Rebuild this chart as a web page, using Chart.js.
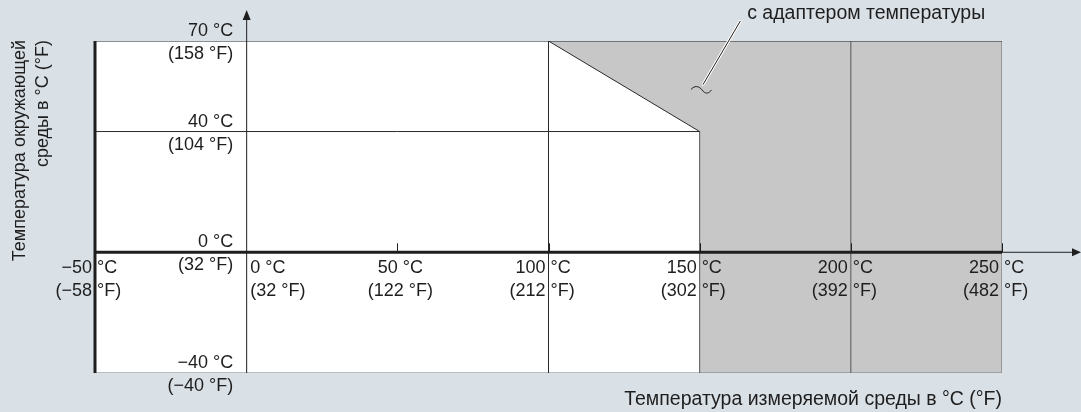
<!DOCTYPE html>
<html>
<head>
<meta charset="utf-8">
<script src="https://cdn.jsdelivr.net/npm/chart.js@4.4.1/dist/chart.umd.min.js"></script>
<style>
  html, body { margin: 0; padding: 0; background: #d9e0e6; }
</style>
</head>
<body>
<canvas id="rangeChart" width="1081" height="412"></canvas>
<script>
// process temperature ticks, °C and °F
const xTicks = [-50, 0, 50, 100, 150, 200, 250];
const xTicksF = [-58, 32, 122, 212, 302, 392, 482];
// ambient temperature ticks, °C and °F
const yTicks = [70, 40, 0, -40];
const yTicksF = [158, 104, 32, -40];

// area where the temperature adapter is needed
const adapterZone = [
    { x: 100, y: 70 },
    { x: 250, y: 70 },
    { x: 250, y: -40 },
    { x: 150, y: -40 },
    { x: 150, y: 40 },
];
// derating edge of the plain device
const limitEdge = [
    { x: 100, y: 70 },
    { x: 150, y: 40 },
];
const ambientLine = [{ x: -50, y: 40 }, { x: 150, y: 40 }];
const line100 = [{ x: 100, y: -40 }, { x: 100, y: 70 }];
const line150 = [{ x: 150, y: -40 }, { x: 150, y: 40 }];
const line200 = [{ x: 200, y: -40 }, { x: 200, y: 70 }];
const frameTop = [{ x: -50, y: 70 }, { x: 250, y: 70 }];
const frameBottom = [{ x: -50, y: -40 }, { x: 250, y: -40 }];
const frameRight = [{ x: 250, y: -40 }, { x: 250, y: 70 }];

const yTitle = ['Температура окружающей', 'среды в °C (°F)'];
const xTitle = 'Температура измеряемой среды в °C (°F)';
const noteText = 'с адаптером температуры';
const notePoint = { x: 150.5, y: 54 };

const FONT = '18px "Liberation Sans", Arial, sans-serif';
const FONT_BIG = '19.5px "Liberation Sans", Arial, sans-serif';
const INK = '#1e1e1e';

const minus = v => String(v).replace('-', '\u2212');

function seg(data, color, width) {
    return {
        data,
        showLine: true,
        borderColor: color,
        borderWidth: width,
        pointRadius: 0,
        fill: false,
        order: 1
    };
}

const chartDecor = {
    id: 'chartDecor',
    beforeDraw(chart) {
        const ctx = chart.ctx;
        ctx.save();
        ctx.fillStyle = '#d9e0e6';
        ctx.fillRect(0, 0, chart.width, chart.height);
        ctx.restore();
    },
    beforeDatasetsDraw(chart) {
        const { ctx, chartArea: a } = chart;
        ctx.save();
        ctx.fillStyle = '#ffffff';
        ctx.fillRect(a.left, a.top, a.right - a.left, a.bottom - a.top);
        ctx.restore();
    },
    afterDatasetsDraw(chart) {
        const { ctx, chartArea: a, scales: { x, y } } = chart;
        const x0 = x.getPixelForValue(0);
        const y0 = y.getPixelForValue(0);
        const xEnd = x.getPixelForValue(250);
        ctx.save();
        ctx.strokeStyle = INK;
        ctx.fillStyle = INK;

        // left edge of the range
        ctx.lineWidth = 3;
        ctx.beginPath();
        ctx.moveTo(a.left, a.top);
        ctx.lineTo(a.left, a.bottom);
        ctx.stroke();

        // x axis: bold inside the range, thin with arrow beyond it
        ctx.beginPath();
        ctx.moveTo(a.left, y0);
        ctx.lineTo(xEnd, y0);
        ctx.stroke();
        ctx.lineWidth = 1;
        ctx.beginPath();
        ctx.moveTo(xEnd, y0);
        ctx.lineTo(chart.width - 6, y0);
        ctx.stroke();
        ctx.beginPath();
        ctx.moveTo(chart.width, y0);
        ctx.lineTo(chart.width - 9, y0 - 4);
        ctx.lineTo(chart.width - 9, y0 + 4);
        ctx.closePath();
        ctx.fill();

        // y axis with arrow
        ctx.beginPath();
        ctx.moveTo(x0 + 0.5, a.bottom);
        ctx.lineTo(x0 + 0.5, 18);
        ctx.stroke();
        ctx.beginPath();
        ctx.moveTo(x0 + 0.5, 10);
        ctx.lineTo(x0 - 3.5, 20);
        ctx.lineTo(x0 + 4.5, 20);
        ctx.closePath();
        ctx.fill();

        // small ticks above the x axis
        xTicks.forEach(v => {
            if (v <= 0) return;
            const px = Math.round(x.getPixelForValue(v)) + 0.5;
            ctx.beginPath();
            ctx.moveTo(px, y0 - 9);
            ctx.lineTo(px, y0);
            ctx.stroke();
        });

        ctx.font = FONT;
        ctx.textBaseline = 'middle';

        // x tick labels, split around the grid line where there is one
        xTicks.forEach((v, i) => {
            const px = x.getPixelForValue(v);
            const c = minus(v);
            const f = '(' + minus(xTicksF[i]);
            const r1 = y0 + 16, r2 = y0 + 39;
            if (v === 0) {
                ctx.textAlign = 'left';
                ctx.fillText(c + ' °C', px + 4, r1);
                ctx.fillText(f + ' °F)', px + 4, r2);
            } else if (v === 50) {
                ctx.textAlign = 'center';
                ctx.fillText(c + ' °C', px + 3, r1);
                ctx.fillText(f + ' °F)', px + 3, r2);
            } else {
                ctx.textAlign = 'right';
                ctx.fillText(c, px - 3, r1);
                ctx.fillText(f, px - 3, r2);
                ctx.textAlign = 'left';
                ctx.fillText('°C', px + 2, r1);
                ctx.fillText('°F)', px + 2, r2);
            }
        });

        // y tick labels left of the y axis
        ctx.textAlign = 'right';
        yTicks.forEach((v, i) => {
            const py = y.getPixelForValue(v);
            ctx.fillText(minus(v) + ' °C', x0 - 13, py - 10);
            ctx.fillText('(' + minus(yTicksF[i]) + ' °F)', x0 - 13, py + 13);
        });

        // axis titles
        ctx.save();
        ctx.translate(20, 40);
        ctx.rotate(-Math.PI / 2);
        ctx.fillText(yTitle[0], 0, 0);
        ctx.fillText(yTitle[1], 0, 23);
        ctx.restore();
        ctx.font = FONT_BIG;
        ctx.fillText(xTitle, xEnd, 400);

        // callout for the adapter area
        const nx = x.getPixelForValue(notePoint.x);
        const ny = y.getPixelForValue(notePoint.y);
        ctx.lineCap = 'round';
        ctx.strokeStyle = '#ffffff';
        ctx.lineWidth = 3;
        ctx.beginPath();
        ctx.moveTo(nx + 2, ny - 5);
        ctx.lineTo(nx + 39, ny - 68);
        ctx.stroke();
        ctx.strokeStyle = INK;
        ctx.lineWidth = 1;
        ctx.stroke();
        ctx.beginPath();
        ctx.moveTo(nx - 10, ny);
        ctx.bezierCurveTo(nx - 5, ny - 6, nx, ny - 1, nx + 2, ny + 2);
        ctx.bezierCurveTo(nx + 5, ny + 5, nx + 8, ny + 4, nx + 10, ny + 1);
        ctx.stroke();
        ctx.textAlign = 'left';
        ctx.fillText(noteText, nx + 46, ny - 76);

        ctx.restore();
    }
};

const rangeChart = new Chart(document.getElementById('rangeChart'), {
    type: 'scatter',
    data: {
        datasets: [
            {
                data: adapterZone,
                showLine: true,
                fill: 'shape',
                backgroundColor: '#c6c7c6',
                borderColor: 'rgba(0,0,0,0)',
                borderWidth: 0,
                pointRadius: 0,
                order: 5
            },
            seg(ambientLine, '#2a2a2a', 1),
            seg(limitEdge, '#2a2a2a', 1),
            seg(line100, '#2a2a2a', 1),
            seg(line150, '#555555', 1),
            seg(line200, '#555555', 1),
            seg(frameTop, '#1e1e1e', 1),
            seg(frameBottom, '#7a7a7a', 1),
            seg(frameRight, '#666666', 1),
        ]
    },
    options: {
        responsive: false,
        animation: false,
        layout: { padding: { left: 95, right: 79, top: 41, bottom: 39 } },
        plugins: {
            legend: { display: false },
            tooltip: { enabled: false }
        },
        scales: {
            x: { type: 'linear', min: -50, max: 250, display: false },
            y: { type: 'linear', min: -40, max: 70, display: false }
        },
        elements: { line: { tension: 0 } }
    },
    plugins: [chartDecor]
});
</script>
</body>
</html>
